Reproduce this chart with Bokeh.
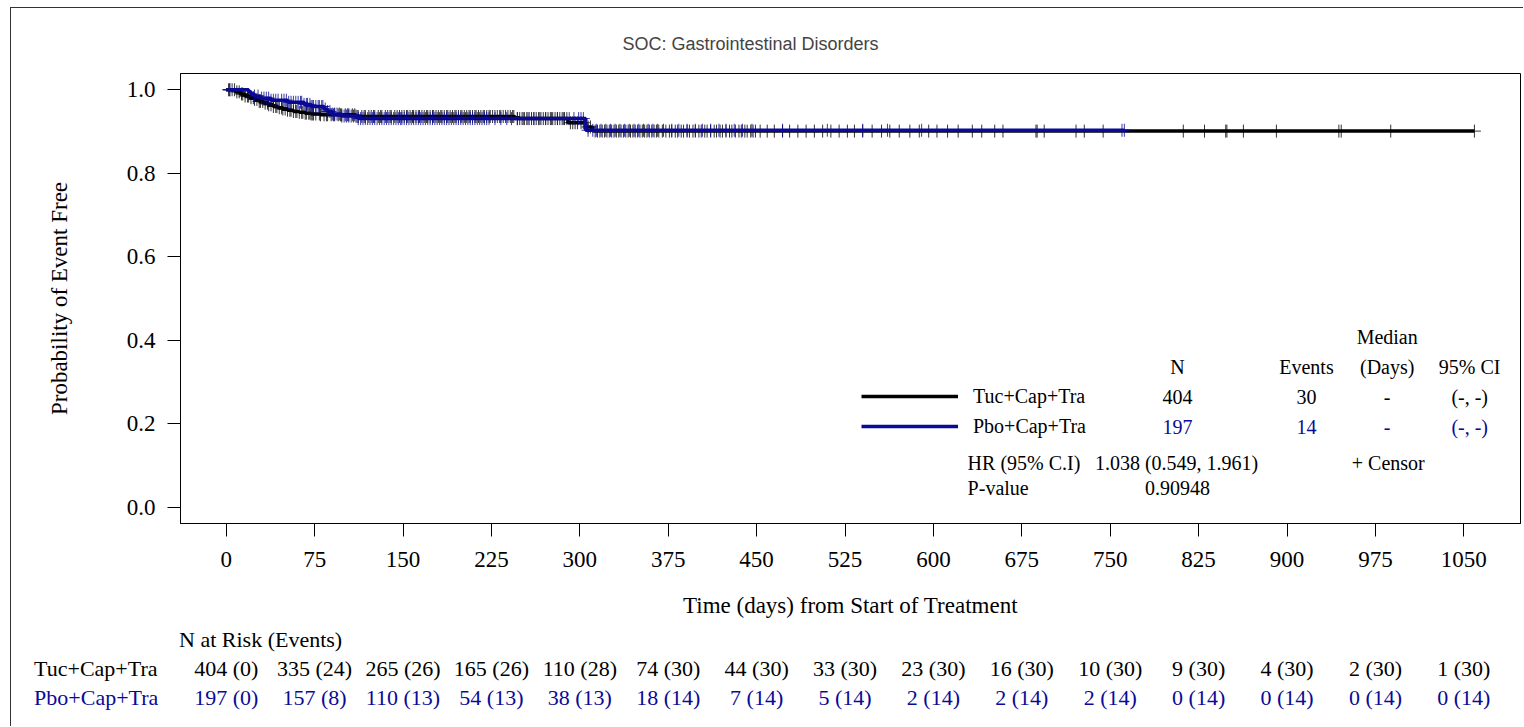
import numpy as np
from bokeh.plotting import figure
from bokeh.layouts import column
from bokeh.models import (Range1d, FixedTicker, PrintfTickFormatter, Label,
                          Legend, LegendItem, ColumnDataSource)
from bokeh.core.properties import value
from bokeh.embed import file_html
from bokeh.resources import INLINE

# ---------------- data ----------------
TITLE = "SOC: Gastrointestinal Disorders"
ARMS = ["Tuc+Cap+Tra", "Pbo+Cap+Tra"]

# Kaplan-Meier step curves (time in days, survival probability)
tuc_time = [0, 8, 12, 16, 20, 24, 28, 32, 36, 40, 44, 48, 52, 57, 62, 67, 72, 80, 110,
            245, 290, 305, 311, 1059]
tuc_surv = [1.0, 0.995, 0.990, 0.985, 0.981, 0.977, 0.972, 0.968, 0.964, 0.960, 0.957,
            0.954, 0.951, 0.948, 0.946, 0.944, 0.942, 0.940, 0.936, 0.931, 0.921, 0.911,
            0.901, 0.901]
pbo_time = [0, 19, 21, 24, 29, 38, 52, 66, 72, 83, 86, 90, 98, 112, 305, 762]
pbo_surv = [1.0, 0.995, 0.990, 0.985, 0.980, 0.975, 0.970, 0.965, 0.960, 0.954, 0.948,
            0.942, 0.937, 0.931, 0.903, 0.903]

# censoring times (days)
tuc_censor = [2, 3, 5, 7, 9, 11, 13, 14, 16, 18, 19, 21, 23, 24, 26, 28, 29, 31, 33, 35,
              36, 38, 40, 42, 43, 45, 47, 48, 50, 52, 54, 55, 57, 59, 60, 62, 64, 65, 67,
              68, 70, 71, 72, 73, 74,
              76, 79, 80, 83, 85, 86, 89, 91, 92, 95, 97, 98, 101, 103, 104, 107, 109, 111,
              112, 115, 117, 118, 121, 123, 125, 126, 129, 131, 132, 135, 137, 139, 140,
              143, 145, 147, 149,
              151, 153, 154, 156, 158, 159, 161, 163, 164, 166, 168, 170, 171, 173, 175,
              176, 178, 180, 182, 183, 185, 187, 188, 190, 192, 194, 195, 197, 199, 200,
              202, 204, 206, 207, 209, 211, 212, 214, 216, 218, 219, 221, 223, 224,
              226, 228, 230, 232, 233, 235, 237, 239, 241, 243, 244, 247, 249, 251, 253,
              255, 257, 259, 261, 263, 265, 267, 269, 271, 273, 275, 277, 279, 281, 283,
              285, 287, 289, 292, 294, 296, 298,
              301, 303, 307, 309, 313, 315, 317, 319, 321, 323, 325, 327, 329, 331, 333,
              335, 337, 339, 341, 343, 345, 347, 349, 351, 353, 355, 357, 359, 361, 363,
              365, 367, 370, 373,
              376, 378, 381, 383, 386, 388, 391, 393, 396, 398, 401, 403, 406, 408, 411,
              414, 416, 419, 421, 424, 427, 429, 432, 435, 437, 440, 442, 445, 447, 449,
              453, 459, 465, 472, 478, 485, 492, 499, 506, 513, 520,
              527, 533, 540, 548, 556, 563, 571, 580, 588, 596,
              603, 612, 621, 633, 641, 652, 659,
              687, 688, 694, 721, 728, 744, 812, 830, 848, 849, 863, 891, 944, 946, 988,
              1059]
pbo_censor = [3, 24, 27, 30, 32, 34, 36, 38, 40, 42, 44, 47, 49, 51, 53, 55, 57, 59, 61,
              63, 64, 66, 68, 69, 71, 72, 73, 74,
              76, 78, 79, 81, 82, 84, 86, 88, 90, 92, 94, 96, 98, 100, 102, 104, 106, 108,
              110, 112, 114, 116, 118, 120, 122, 124, 126, 128, 130, 132, 134, 136, 138,
              140, 142, 144, 146, 148, 149,
              151, 153, 155, 157, 159, 161, 163, 165, 167, 169, 171, 173, 175, 177, 179,
              181, 183, 185, 187, 189, 191, 193, 195, 197, 199, 201, 203, 205, 207, 209,
              211, 213, 215, 217, 219, 221, 223,
              228, 233, 238, 242, 247, 252, 256, 261, 266, 271, 276, 281, 286, 291, 295,
              299,
              301, 303, 307, 311, 314, 318, 322, 326, 330, 334, 338, 342, 346, 350, 354,
              358, 362, 366, 371,
              378, 384, 391, 398, 404, 411, 418, 424, 431, 438, 446,
              472, 510, 540, 561, 590, 760, 762]

# numbers at risk (events) table
risk_days = [0, 75, 150, 225, 300, 375, 450, 525, 600, 675, 750, 825, 900, 975, 1050]
tuc_risk = [404, 335, 265, 165, 110, 74, 44, 33, 23, 16, 10, 9, 4, 2, 1]
tuc_events = [0, 24, 26, 26, 28, 30, 30, 30, 30, 30, 30, 30, 30, 30, 30]
pbo_risk = [197, 157, 110, 54, 38, 18, 7, 5, 2, 2, 2, 0, 0, 0, 0]
pbo_events = [0, 8, 13, 13, 13, 14, 14, 14, 14, 14, 14, 14, 14, 14, 14]
y_ticks = [0.0, 0.2, 0.4, 0.6, 0.8, 1.0]

# summary statistics
stat_n = [404, 197]
stat_events = [30, 14]
stat_median = ["-", "-"]
stat_ci = ["(-, -)", "(-, -)"]
HR_TEXT = "1.038 (0.549, 1.961)"
P_TEXT = "0.90948"

# ---------------- styling ----------------
BLACK = "#000000"
BLUE = "#0A0A96"
SERIF = "Liberation Serif"
SANS = "Liberation Sans"


def level(times, survs, t):
    idx = np.searchsorted(np.asarray(times), np.asarray(t), side="right") - 1
    return np.asarray(survs)[idx]


XMIN, XMAX = -38.8, 1098.1
YMIN, YMAX = -0.039, 1.039

p = figure(width=1512, height=617, x_range=Range1d(XMIN, XMAX), y_range=Range1d(YMIN, YMAX),
           output_backend="svg", toolbar_location=None, title=TITLE,
           min_border_left=169, min_border_right=3, min_border_top=65, min_border_bottom=102)
p.frame_align = False
p.title.text_font = SANS
p.title.text_font_size = "18px"
p.title.text_font_style = "normal"
p.title.align = "left"
p.title.offset = 442
p.title.standoff = 40
p.xgrid.visible = False
p.ygrid.visible = False
p.outline_line_color = "black"
p.outline_line_width = 1
p.background_fill_color = "white"
p.border_fill_color = "white"

for ax in (p.xaxis[0], p.yaxis[0]):
    ax.major_tick_out = 13
    ax.major_tick_in = 0
    ax.minor_tick_out = 0
    ax.minor_tick_in = 0
    ax.axis_line_color = "black"
    ax.major_tick_line_color = "black"
    ax.major_label_text_font = SERIF
    ax.major_label_text_font_size = "23px"
    ax.major_label_text_color = "black"
    ax.axis_label_text_font = SERIF
    ax.axis_label_text_font_size = "23px"
    ax.axis_label_text_font_style = "normal"
    ax.axis_label_text_color = "black"

p.xaxis[0].ticker = FixedTicker(ticks=risk_days, minor_ticks=[])
p.xaxis[0].major_label_standoff = 15
p.xaxis[0].axis_label = "Time (days) from Start of Treatment"
p.xaxis[0].axis_label_standoff = 23
p.yaxis[0].ticker = FixedTicker(ticks=y_ticks, minor_ticks=[])
p.yaxis[0].formatter = PrintfTickFormatter(format="%.1f")
p.yaxis[0].major_label_standoff = 12
p.yaxis[0].axis_label = "Probability of Event Free"
p.yaxis[0].axis_label_standoff = 52

# curves
r_tuc = p.step(tuc_time, tuc_surv, mode="after", line_color=BLACK, line_width=3.5)
p.scatter(tuc_censor, level(tuc_time, tuc_surv, tuc_censor), marker="cross", size=13,
          line_color=BLACK, line_width=1, line_alpha=0.8)
r_pbo = p.step(pbo_time, pbo_surv, mode="after", line_color=BLUE, line_width=3.5)
p.scatter(pbo_censor, level(pbo_time, pbo_surv, pbo_censor), marker="cross", size=13,
          line_color=BLUE, line_width=1, line_alpha=0.8)

legend = Legend(items=[LegendItem(label=ARMS[0], renderers=[r_tuc]),
                       LegendItem(label=ARMS[1], renderers=[r_pbo])],
                location=(681, 82), padding=0, margin=0, spacing=0,
                glyph_width=97, glyph_height=30, label_height=30, label_standoff=15,
                label_text_font=SERIF, label_text_font_size="20px", label_text_color="black",
                border_line_alpha=0, background_fill_alpha=0)
p.add_layout(legend)


def lab(x, y, text, color="black", align="center", size="20px"):
    p.add_layout(Label(x=x, y=y, text=text, text_font=SERIF, text_font_size=size,
                       text_align=align, text_baseline="middle", text_color=color))


# statistics table
COL_N, COL_EV, COL_MED, COL_CI = 807, 916.5, 985, 1055
lab(COL_MED, 0.408, "Median")
lab(COL_N, 0.337, "N")
lab(COL_EV, 0.337, "Events")
lab(COL_MED, 0.337, "(Days)")
lab(COL_CI, 0.337, "95% CI")
for i, (yy, col) in enumerate([(0.265, BLACK), (0.193, BLUE)]):
    lab(COL_N, yy, str(stat_n[i]), col)
    lab(COL_EV, yy, str(stat_events[i]), col)
    lab(COL_MED, yy, stat_median[i], col)
    lab(COL_CI, yy, stat_ci[i], col)
lab(629, 0.107, "HR (95% C.I)", align="left")
lab(737, 0.107, HR_TEXT, align="left")
lab(955, 0.107, "+ Censor", align="left")
lab(629, 0.045, "P-value", align="left")
lab(COL_N, 0.045, P_TEXT)

# ---------------- at-risk table (separate panel sharing the day scale) ----------------
t = figure(width=1512, height=101, x_range=Range1d(-182.15, 1100.6),
           y_range=Range1d(2.997, -0.486), output_backend="svg", toolbar_location=None,
           x_axis_type=None, y_axis_type=None, min_border=0, min_border_left=0,
           min_border_right=0, min_border_top=0, min_border_bottom=0)
t.frame_align = False
t.xgrid.visible = False
t.ygrid.visible = False
t.outline_line_color = None
t.background_fill_color = "white"
t.border_fill_color = "white"

RISK_FONT = "22px"
t.text(x=[-40], y=[0], text=["N at Risk (Events)"], text_font=value(SERIF),
       text_font_size=RISK_FONT, text_align="left", text_baseline="middle", text_color=BLACK)
for row, (name, risk, ev, col) in enumerate([(ARMS[0], tuc_risk, tuc_events, BLACK),
                                             (ARMS[1], pbo_risk, pbo_events, BLUE)], start=1):
    t.text(x=[-163], y=[row], text=[name], text_font=value(SERIF), text_font_size=RISK_FONT,
           text_align="left", text_baseline="middle", text_color=col)
    src = ColumnDataSource(dict(x=risk_days, y=[row] * len(risk_days),
                                t=[f"{a} ({b})" for a, b in zip(risk, ev)]))
    t.text(x="x", y="y", text="t", source=src, text_font=value(SERIF),
           text_font_size=RISK_FONT, text_align="center", text_baseline="middle",
           text_color=col)

layout = column(p, t, spacing=0, margin=(7, 0, 0, 10),
                styles={"border-left": "1px solid #333333", "border-top": "1px solid #333333"})

open("out.html", "w").write(file_html(layout, INLINE))
